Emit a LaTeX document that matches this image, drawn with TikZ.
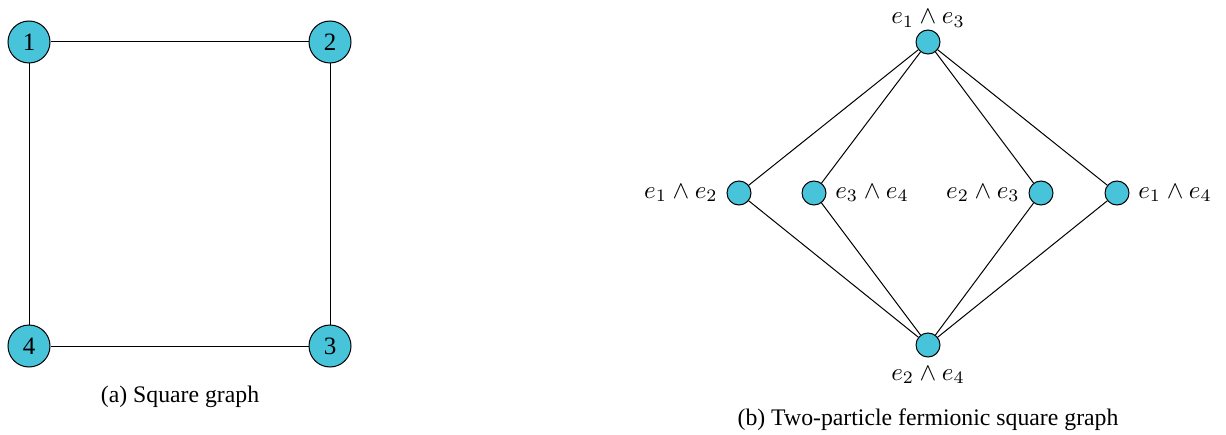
\documentclass[tikz,border=0pt]{standalone}
\usepackage{fontspec}
\setmainfont{Liberation Serif}
\usepackage{xcolor}
\usetikzlibrary{positioning}

\definecolor{vertcyan}{HTML}{48C4DA}

\begin{document}
\begin{tikzpicture}[
  x=0.4pt, y=0.4pt,
  bigvert/.style={circle, draw, fill=vertcyan, minimum size=16.8pt, inner sep=0pt, font=\normalsize},
  smallvert/.style={circle, draw, fill=vertcyan, minimum size=9.6pt, inner sep=0pt},
  edge/.style={draw, thin},
  caption/.style={font=\fontsize{9.5}{11}\selectfont, inner sep=0pt, anchor=base}
]
  \useasboundingbox (0,0) rectangle (1226,434);

  % (a) square graph
  \node[bigvert] (v1) at (29,392) {1};
  \node[bigvert] (v2) at (330,392) {2};
  \node[bigvert] (v3) at (330,88) {3};
  \node[bigvert] (v4) at (29,88) {4};
  \draw[edge] (v1) -- (v2);
  \draw[edge] (v2) -- (v3);
  \draw[edge] (v3) -- (v4);
  \draw[edge] (v4) -- (v1);
  \node[caption] (capa) at (180,32) {(a) Square graph};

  % (b) two-particle fermionic graph
  \node[smallvert, label={[inner sep=1pt, label distance=-0.3pt]above:{$e_1\wedge e_3$}}] (w13) at (928,392) {};
  \node[smallvert, label=left:{$e_1\wedge e_2$}] (w12) at (739,241) {};
  \node[smallvert, label=right:{$e_3\wedge e_4$}] (w34) at (814,241) {};
  \node[smallvert, label=left:{$e_2\wedge e_3$}] (w23) at (1041,241) {};
  \node[smallvert, label=right:{$e_1\wedge e_4$}] (w14) at (1117,241) {};
  \node[smallvert, label=below:{$e_2\wedge e_4$}] (w24) at (928,89) {};
  \foreach \m in {w12,w34,w23,w14} {
    \draw[edge] (w13) -- (\m);
    \draw[edge] (\m) -- (w24);
  }
  \node[caption] (capb) at (928,9) {(b) Two-particle fermionic square graph};
\end{tikzpicture}
\end{document}
